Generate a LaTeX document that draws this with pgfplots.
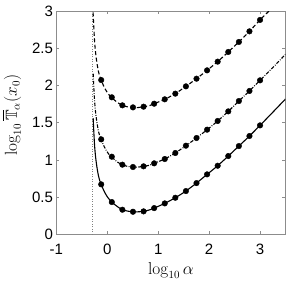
\documentclass[border=0pt]{standalone}
\usepackage{amsmath,amssymb}
\usepackage[no-math]{fontspec}
\newfontfamily\tickfont{Liberation Sans}
\usepackage{pgfplots}
\pgfplotsset{compat=1.18}
\begin{document}
\begin{tikzpicture}[x=1pt,y=1pt]
\useasboundingbox (-56.4,-46.7) rectangle (236.5,234.3);
\begin{axis}[
  at={(0,0)}, anchor=south west,
  scale only axis, width=229pt, height=223.3pt,
  xmin=-1, xmax=3.5, ymin=0, ymax=3,
  xtick={-1,0,1,2,3}, ytick={0,0.5,1,1.5,2,2.5,3},
  tick align=inside, major tick length=3pt,
  axis line style={black!45, line width=0.6pt},
  tick style={black!45, line width=0.6pt},
  /pgf/number format/assume math mode=true,
  tick label style={font=\fontsize{15}{17}\tickfont, black},
  xticklabel style={yshift=-6pt},
  label style={font=\fontsize{16}{19}\selectfont},
  xlabel={$\log_{10}\alpha$},
  ylabel={$\log_{10}\overline{\mathbb{T}}_\alpha(x_0)$},
  xlabel style={at={(axis description cs:0.5,0)}, anchor=base, yshift=-40pt},
  ylabel style={at={(axis description cs:-0.1939,0.5336)}, anchor=center},
  clip=true,
]
\addplot[black!50, dotted, line width=0.5pt] coordinates {(-0.301,0) (-0.301,3)};
% lower (solid)
\addplot[black, line width=1.1pt, smooth, tension=0.4] coordinates {
(-0.278,1.56) (-0.27,1.44) (-0.26,1.31) (-0.25,1.19) (-0.235,1.07) (-0.22,0.98)
(-0.2,0.885) (-0.175,0.79) (-0.15,0.725) (-0.12,0.672) (-0.08,0.605) (-0.04,0.55)
(0,0.505) (0.044,0.466) (0.088,0.434) (0.15,0.398) (0.22,0.362) (0.296,0.331)
(0.4,0.312) (0.504,0.304) (0.6,0.303) (0.712,0.309) (0.82,0.327) (0.92,0.353)
(1.128,0.416) (1.336,0.492) (1.544,0.582) (1.752,0.689) (1.96,0.806) (2.168,0.922)
(2.376,1.052) (2.584,1.186) (2.792,1.321) (3.0,1.464) (3.25,1.64) (3.5,1.818)};
% middle (dash-dot)
\addplot[black, line width=1.1pt, smooth, tension=0.4, dash pattern=on 3.5pt off 1.5pt on 0.8pt off 1.5pt] coordinates {
(-0.278,2.16) (-0.27,2.04) (-0.26,1.91) (-0.25,1.79) (-0.235,1.67) (-0.22,1.58)
(-0.2,1.485) (-0.175,1.39) (-0.15,1.325) (-0.12,1.276) (-0.08,1.205) (-0.04,1.15)
(0,1.105) (0.044,1.066) (0.088,1.043) (0.15,0.998) (0.22,0.962) (0.296,0.936)
(0.4,0.912) (0.504,0.905) (0.6,0.903) (0.712,0.914) (0.82,0.927) (0.92,0.954)
(1.128,1.012) (1.336,1.093) (1.544,1.191) (1.752,1.294) (1.96,1.406) (2.168,1.523)
(2.376,1.652) (2.584,1.791) (2.792,1.926) (3.0,2.069) (3.25,2.24) (3.5,2.418)};
% upper (dashed)
\addplot[black, line width=1.1pt, smooth, tension=0.4, dash pattern=on 4pt off 2.5pt] coordinates {
(-0.285,3.07) (-0.278,2.96) (-0.27,2.84) (-0.26,2.71) (-0.25,2.59) (-0.235,2.47) (-0.22,2.38)
(-0.2,2.285) (-0.175,2.19) (-0.15,2.125) (-0.12,2.073) (-0.08,2.005) (-0.04,1.95)
(0,1.905) (0.044,1.866) (0.088,1.841) (0.15,1.798) (0.22,1.762) (0.296,1.733)
(0.4,1.712) (0.504,1.706) (0.6,1.703) (0.712,1.715) (0.82,1.727) (0.92,1.755)
(1.128,1.814) (1.336,1.890) (1.544,1.988) (1.752,2.091) (1.96,2.203) (2.168,2.320)
(2.376,2.450) (2.584,2.584) (2.792,2.727) (3.0,2.880) (3.25,3.05) (3.4,3.15)};
% markers
\addplot[only marks, mark=*, mark size=2.8pt, black] coordinates {
(-0.12,0.672) (0.088,0.434) (0.296,0.331) (0.504,0.304) (0.712,0.309) (0.92,0.353)
(1.128,0.416) (1.336,0.492) (1.544,0.582) (1.752,0.689) (1.96,0.806) (2.168,0.922)
(2.376,1.052) (2.584,1.186) (2.792,1.321) (3.0,1.464)};
\addplot[only marks, mark=*, mark size=2.8pt, black] coordinates {
(-0.12,1.276) (0.088,1.043) (0.296,0.936) (0.504,0.905) (0.712,0.914) (0.92,0.954)
(1.128,1.012) (1.336,1.093) (1.544,1.191) (1.752,1.294) (1.96,1.406) (2.168,1.523)
(2.376,1.652) (2.584,1.791) (2.792,1.926) (3.0,2.069)};
\addplot[only marks, mark=*, mark size=2.8pt, black] coordinates {
(-0.12,2.073) (0.088,1.841) (0.296,1.733) (0.504,1.706) (0.712,1.715) (0.92,1.755)
(1.128,1.814) (1.336,1.890) (1.544,1.988) (1.752,2.091) (1.96,2.203) (2.168,2.320)
(2.376,2.450) (2.584,2.584) (2.792,2.727) (3.0,2.880)};
\end{axis}
\end{tikzpicture}
\end{document}
